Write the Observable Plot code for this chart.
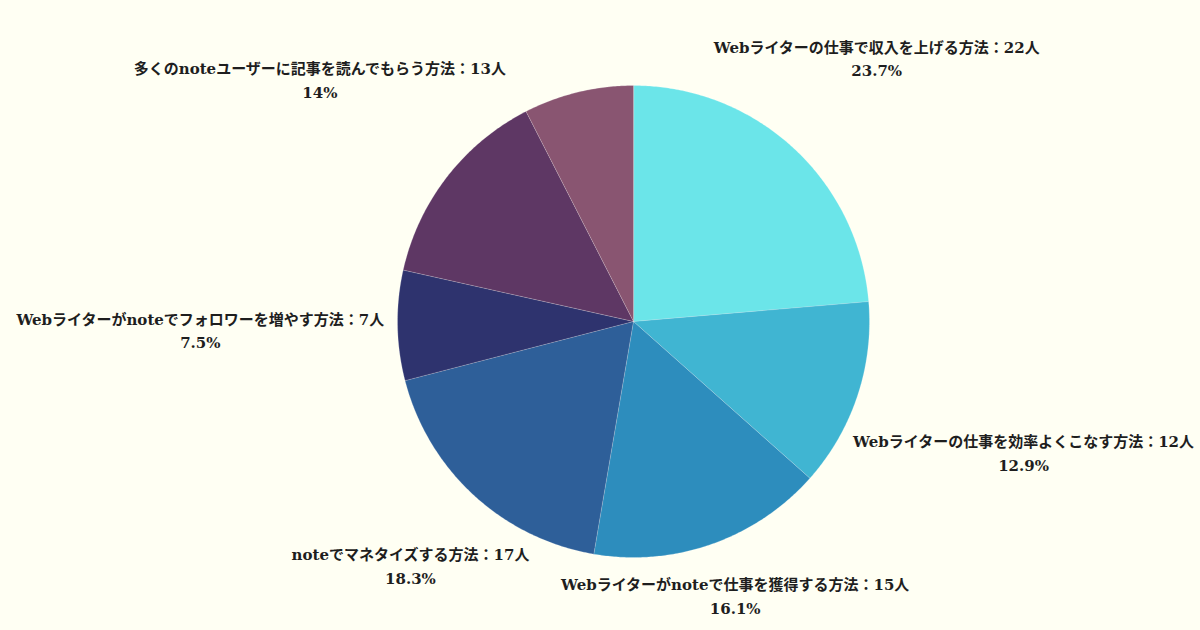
<!DOCTYPE html>
<html><head><meta charset="utf-8">
<script src="https://cdn.jsdelivr.net/npm/d3@7"></script>
<script src="https://cdn.jsdelivr.net/npm/@observablehq/plot@0.6"></script>
<style>
html,body{margin:0;padding:0;background:#fffff3;}
#chart{width:1200px;height:630px;overflow:hidden;}
</style></head><body><div id="chart"></div>
<script>
// ---- data ----
const categories = [
  "Webライターの仕事で収入を上げる方法",
  "Webライターの仕事を効率よくこなす方法",
  "Webライターがnoteで仕事を獲得する方法",
  "noteでマネタイズする方法",
  "Webライターがnoteでフォロワーを増やす方法",
  "多くのnoteユーザーに記事を読んでもらう方法",
  "その他"
];
const counts = [22, 12, 15, 17, 7, 13, 7];
const showLabel = [true, true, true, true, true, true, false];
const colors = ["#6be5e9", "#40b5d2", "#2d8dbd", "#2e5f99", "#2e336e", "#5e3764", "#895571"];

// ---- layout ----
const W = 1200, H = 630, CX = 633, CY = 321, R = 236;
const FONT_FAMILY = "'DejaVu Serif', 'Noto Sans CJK JP', sans-serif";
const FONT_SIZE = 15;
const LINE_H = 1.6;
const EDGE_X = 5, EDGE_Y = 12; // keep label blocks this far inside the canvas

const rows = categories.map((name, i) => ({name, count: counts[i], show: showLabel[i]}));
const total = d3.sum(counts);
const arcs = d3.pie().sort(null).value(d => d.count)(rows);

// slice outlines in unit-radius coordinates (angle clockwise from 12 o'clock)
const pts = [];
for (const a of arcs) {
  const n = Math.max(2, Math.ceil((a.endAngle - a.startAngle) / (Math.PI / 360)));
  pts.push({name: a.data.name, x: 0, y: 0});
  for (let k = 0; k <= n; k++) {
    const t = a.startAngle + (a.endAngle - a.startAngle) * k / n;
    pts.push({name: a.data.name, x: Math.sin(t), y: Math.cos(t)});
  }
}

// labels: placed outward along each slice's mid-angle, clamped inside the canvas
const ctx = document.createElement("canvas").getContext("2d");
ctx.font = `bold ${FONT_SIZE}px ${FONT_FAMILY}`;
const fmtPct = v => (+(v * 100).toFixed(1)) + "%";
const blockH = FONT_SIZE * LINE_H * 2;
const labels = arcs.filter(a => a.data.show).map(a => {
  const l1 = `${a.data.name}：${a.data.count}人`;
  const l2 = fmtPct(a.data.count / total);
  const w = Math.max(ctx.measureText(l1).width, ctx.measureText(l2).width);
  const mid = (a.startAngle + a.endAngle) / 2;
  const D = R + 13 + (w / 2) * Math.abs(Math.sin(mid));
  let px = CX + D * Math.sin(mid), py = CY - D * Math.cos(mid);
  py = Math.max(EDGE_Y + blockH / 2, Math.min(H - EDGE_Y - blockH / 2, py));
  px = Math.max(EDGE_X + w / 2, Math.min(W - EDGE_X - w / 2, px));
  return {text: l1 + "\n" + l2, x: (px - CX) / R, y: (CY - py) / R};
});

const chart = Plot.plot({
  width: W, height: H, margin: 0,
  x: {domain: [-1, 1], range: [CX - R, CX + R], axis: null},
  y: {domain: [-1, 1], range: [CY + R, CY - R], axis: null},
  color: {domain: categories, range: colors},
  style: {background: "#fffff3", overflow: "visible"},
  marks: [
    Plot.line(pts, {x: "x", y: "y", z: "name", fill: "name", stroke: "#ffffff",
      strokeOpacity: 0.35, strokeWidth: 0.6, curve: "linear-closed"}),
    Plot.text(labels, {x: "x", y: "y", text: "text", fontSize: FONT_SIZE, fontWeight: "bold",
      fontFamily: FONT_FAMILY, fill: "#1e1e1e", lineHeight: LINE_H,
      lineAnchor: "middle", textAnchor: "middle"})
  ]
});
document.getElementById("chart").appendChild(chart);
</script>
</body></html>
